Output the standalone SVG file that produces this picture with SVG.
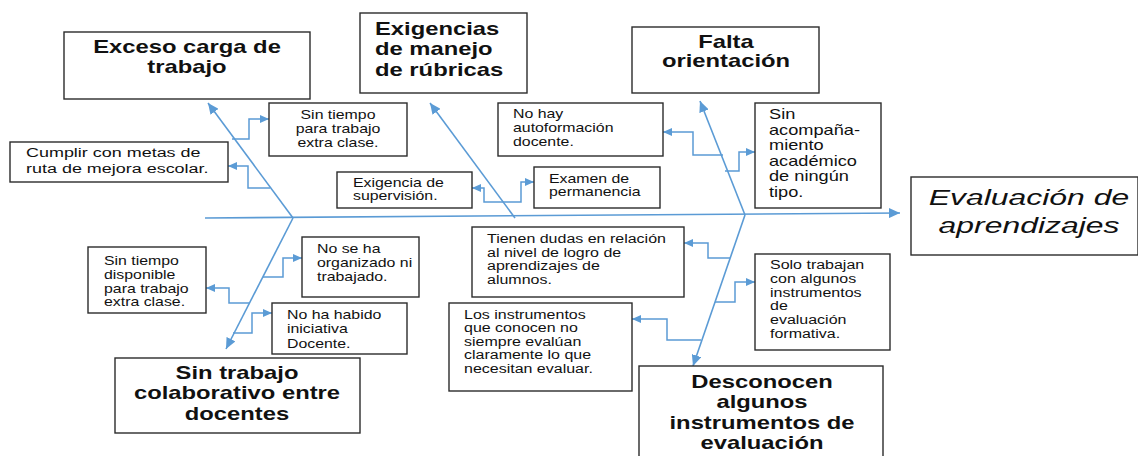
<svg xmlns="http://www.w3.org/2000/svg" width="1138" height="456" viewBox="0 0 1138 456">
<style>
.box{fill:#fff;stroke:#2b2b2b;stroke-width:1.4}
.bone{fill:none;stroke:#5b9bd5;stroke-width:1.6}
.con{fill:none;stroke:#5b9bd5;stroke-width:1.5}
text{font-family:"Liberation Sans",Arial,sans-serif;fill:#111}
.title{font-size:17.5px;font-weight:bold}
.small{font-size:12.5px}
.eff{font-size:22px;font-style:italic}
</style>
<defs>
<marker id="ah" markerUnits="userSpaceOnUse" markerWidth="12" markerHeight="10" refX="11" refY="5" orient="auto">
<path d="M0,0 L11,5 L0,10 Z" fill="#5b9bd5"/>
</marker>
<marker id="ahs" markerUnits="userSpaceOnUse" markerWidth="10" markerHeight="8" refX="9" refY="4" orient="auto">
<path d="M0,0 L9,4 L0,8 Z" fill="#5b9bd5"/>
</marker>
</defs>

<g id="connectors">
<line class="bone" x1="205" y1="218" x2="900" y2="213" marker-end="url(#ah)"/>
<line class="bone" x1="293" y1="218" x2="208" y2="103" marker-end="url(#ah)"/>
<line class="bone" x1="293" y1="218" x2="226" y2="349" marker-end="url(#ah)"/>
<line class="bone" x1="515" y1="218" x2="430" y2="103" marker-end="url(#ah)"/>
<line class="bone" x1="745" y1="215" x2="700" y2="101" marker-end="url(#ah)"/>
<line class="bone" x1="745" y1="215" x2="693" y2="366" marker-end="url(#ah)"/>
<path class="con" d="M232,139 H249 V119 H269" marker-end="url(#ahs)"/>
<path class="con" d="M270,188 H248 V166 H228" marker-end="url(#ahs)"/>
<path class="con" d="M506,202 H484 V188 H472" marker-end="url(#ahs)"/>
<path class="con" d="M506,202 H521 V182 H534" marker-end="url(#ahs)"/>
<path class="con" d="M723,155 H693 V132 H663" marker-end="url(#ahs)"/>
<path class="con" d="M725,171 H739 V152 H755" marker-end="url(#ahs)"/>
<path class="con" d="M250,303 H229 V288 H206" marker-end="url(#ahs)"/>
<path class="con" d="M263,277 H283 V258 H302" marker-end="url(#ahs)"/>
<path class="con" d="M233,333 H252 V313 H272" marker-end="url(#ahs)"/>
<path class="con" d="M730,258 H708 V243 H684" marker-end="url(#ahs)"/>
<path class="con" d="M715,302 H735 V282 H755" marker-end="url(#ahs)"/>
<path class="con" d="M701,340 H667 V319 H632" marker-end="url(#ahs)"/>
</g>

<g id="exceso">
<rect class="box" x="64" y="32" width="246" height="67"/>
<text class="title" text-anchor="middle" transform="translate(187,53) scale(1.36,1)"><tspan x="0" y="0">Exceso carga de</tspan><tspan x="0" dy="20">trabajo</tspan></text>
</g>

<g id="exigencias">
<rect class="box" x="360" y="13" width="167" height="80"/>
<text class="title" transform="translate(375,35) scale(1.36,1)"><tspan x="0" y="0">Exigencias</tspan><tspan x="0" dy="20.5">de manejo</tspan><tspan x="0" dy="20.5">de rúbricas</tspan></text>
</g>

<g id="falta">
<rect class="box" x="632" y="27" width="187" height="66"/>
<text class="title" text-anchor="middle" transform="translate(726,48) scale(1.36,1)"><tspan x="0" y="0">Falta</tspan><tspan x="0" dy="19">orientación</tspan></text>
</g>

<g id="efecto">
<rect class="box" x="911" y="177" width="227" height="78"/>
<text class="eff" text-anchor="middle" transform="translate(1029,205) scale(1.45,1)"><tspan x="0" y="0">Evaluación de</tspan><tspan x="0" dy="28">aprendizajes</tspan></text>
</g>

<g id="sin-trabajo">
<rect class="box" x="115" y="358" width="245" height="75"/>
<text class="title" text-anchor="middle" transform="translate(237,379) scale(1.36,1)"><tspan x="0" y="0">Sin trabajo</tspan><tspan x="0" dy="20.5">colaborativo entre</tspan><tspan x="0" dy="20.5">docentes</tspan></text>
</g>

<g id="desconocen">
<rect class="box" x="639" y="366" width="244" height="95"/>
<text class="title" text-anchor="middle" transform="translate(762,388) scale(1.36,1)"><tspan x="0" y="0">Desconocen</tspan><tspan x="0" dy="20.3">algunos</tspan><tspan x="0" dy="20.3">instrumentos de</tspan><tspan x="0" dy="20.3">evaluación</tspan></text>
</g>

<g id="sin-tiempo-extra">
<rect class="box" x="269" y="103" width="138" height="53"/>
<text class="small" text-anchor="middle" transform="translate(338,119) scale(1.27,1)"><tspan x="0" y="0">Sin tiempo</tspan><tspan x="0" dy="14">para trabajo</tspan><tspan x="0" dy="14">extra clase.</tspan></text>
</g>

<g id="cumplir">
<rect class="box" x="10" y="142" width="218" height="40"/>
<text style="font-size:13.5px" transform="translate(26,157) scale(1.33,1)"><tspan x="0" y="0">Cumplir con metas de</tspan><tspan x="0" dy="16">ruta de mejora escolar.</tspan></text>
</g>

<g id="supervision">
<rect class="box" x="337" y="172" width="135" height="36"/>
<text class="small" transform="translate(353,187) scale(1.27,1)"><tspan x="0" y="0">Exigencia de</tspan><tspan x="0" dy="13.5">supervisión.</tspan></text>
</g>

<g id="examen">
<rect class="box" x="534" y="167" width="126" height="41"/>
<text class="small" transform="translate(549,183) scale(1.27,1)"><tspan x="0" y="0">Examen de</tspan><tspan x="0" dy="13.5">permanencia</tspan></text>
</g>

<g id="autoformacion">
<rect class="box" x="498" y="103" width="165" height="53"/>
<text class="small" transform="translate(513,118) scale(1.27,1)"><tspan x="0" y="0">No hay</tspan><tspan x="0" dy="14">autoformación</tspan><tspan x="0" dy="14">docente.</tspan></text>
</g>

<g id="acompanamiento">
<rect class="box" x="755" y="103" width="126" height="105"/>
<text style="font-size:14px" transform="translate(769,119) scale(1.3,1)"><tspan x="0" y="0">Sin</tspan><tspan x="0" dy="15.6">acompaña-</tspan><tspan x="0" dy="15.6">miento</tspan><tspan x="0" dy="15.6">académico</tspan><tspan x="0" dy="15.6">de ningún</tspan><tspan x="0" dy="15.6">tipo.</tspan></text>
</g>

<g id="sin-tiempo-disponible">
<rect class="box" x="88" y="247" width="118" height="66"/>
<text class="small" transform="translate(104,265) scale(1.27,1)"><tspan x="0" y="0">Sin tiempo</tspan><tspan x="0" dy="13.8">disponible</tspan><tspan x="0" dy="13.8">para trabajo</tspan><tspan x="0" dy="13.8">extra clase.</tspan></text>
</g>

<g id="organizado">
<rect class="box" x="302" y="237" width="117" height="60"/>
<text class="small" transform="translate(317,253) scale(1.27,1)"><tspan x="0" y="0">No se ha</tspan><tspan x="0" dy="14.2">organizado ni</tspan><tspan x="0" dy="14.2">trabajado.</tspan></text>
</g>

<g id="iniciativa">
<rect class="box" x="272" y="303" width="135" height="51"/>
<text class="small" transform="translate(287,319) scale(1.27,1)"><tspan x="0" y="0">No ha habido</tspan><tspan x="0" dy="14.3">iniciativa</tspan><tspan x="0" dy="14.3">Docente.</tspan></text>
</g>

<g id="dudas">
<rect class="box" x="472" y="227" width="212" height="70"/>
<text class="small" transform="translate(487,243) scale(1.28,1)"><tspan x="0" y="0">Tienen dudas en relación</tspan><tspan x="0" dy="13.7">al nivel de logro de</tspan><tspan x="0" dy="13.7">aprendizajes de</tspan><tspan x="0" dy="13.7">alumnos.</tspan></text>
</g>

<g id="solo-trabajan">
<rect class="box" x="755" y="254" width="135" height="96"/>
<text class="small" transform="translate(770,269) scale(1.28,1)"><tspan x="0" y="0">Solo trabajan</tspan><tspan x="0" dy="13.8">con algunos</tspan><tspan x="0" dy="13.8">instrumentos</tspan><tspan x="0" dy="13.8">de</tspan><tspan x="0" dy="13.8">evaluación</tspan><tspan x="0" dy="13.8">formativa.</tspan></text>
</g>

<g id="instrumentos">
<rect class="box" x="449" y="303" width="183" height="88"/>
<text class="small" transform="translate(464,319) scale(1.28,1)"><tspan x="0" y="0">Los instrumentos</tspan><tspan x="0" dy="13.5">que conocen no</tspan><tspan x="0" dy="13.5">siempre evalúan</tspan><tspan x="0" dy="13.5">claramente lo que</tspan><tspan x="0" dy="13.5">necesitan evaluar.</tspan></text>
</g>
</svg>
